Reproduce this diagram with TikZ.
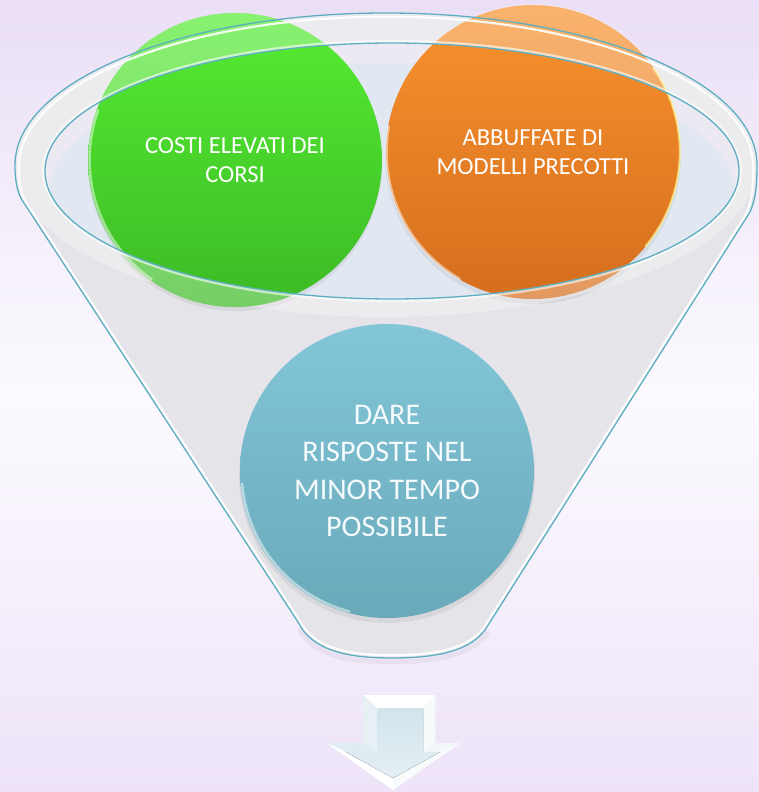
\documentclass[tikz,border=0pt]{standalone}
\usepackage{fontspec}
\setmainfont{Carlito}
\usetikzlibrary{calc}
\definecolor{bgtop}{HTML}{EADFF6}
\definecolor{bgmid}{HTML}{FCFAFE}
\definecolor{bgbot}{HTML}{EEE3F8}
\definecolor{funnelgray}{HTML}{E5E4E9}
\definecolor{funnelline}{HTML}{5EAEC2}
\definecolor{rimfill}{HTML}{ECE9F2}
\definecolor{liquid}{HTML}{E1E8F2}
\definecolor{greentop}{HTML}{55EC33}
\definecolor{greenbot}{HTML}{3CBA25}
\definecolor{orangetop}{HTML}{F8922E}
\definecolor{orangebot}{HTML}{D56E1D}
\definecolor{bluetop}{HTML}{82C6D8}
\definecolor{bluebot}{HTML}{69A9BA}
\definecolor{arrowface}{HTML}{D2E4EC}
\definecolor{arrowedge}{HTML}{F3F8FA}
\begin{document}
\begin{tikzpicture}[x=1pt,y=-1pt,
  ball/.style={circle, minimum size=294pt, inner sep=0pt, align=center, text=white,
    font=\fontsize{24.5}{29}\selectfont},
  bigball/.style={ball, font=\fontsize{30}{37.5}\selectfont, text=white!92!bluetop},
  hl/.style={white, line width=2.5pt, opacity=0.5, line cap=round},
  ballshadow/.style={black, opacity=0.06},
  funnelpath/.style={insert path={(15,165) arc[start angle=180, end angle=360, x radius=371, y radius=152]
     .. controls (757,190) and (755,200) .. (750,212) -- (485,630)
     .. controls (470,650) and (440,658) .. (392,658)
     .. controls (345,658) and (312,650) .. (298,622) -- (22,200)
     .. controls (17,192) and (15,180) .. (15,165) -- cycle}},
]
\useasboundingbox (0,0) rectangle (759,792);
% background
\fill[top color=bgtop, bottom color=bgbot, middle color=bgmid] (0,0) rectangle (759,792);

% funnel shadow
\draw[line width=5pt, color=black!15!bgbot, opacity=0.25, line cap=round]
  (300,630) .. controls (314,654) and (345,662) .. (392,662) .. controls (440,662) and (472,653) .. (487,634);

% funnel body
\fill[funnelgray, opacity=0.95, funnelpath];
% rim interior and liquid surface
\fill[rimfill] (392,171) ellipse [x radius=347, y radius=128];
\begin{scope}
  \clip (392,171) ellipse [x radius=347, y radius=128];
  \fill[liquid] (392,190) ellipse [x radius=342, y radius=127];
\end{scope}

% circle shadows
\fill[ballshadow] (387,475) circle [radius=148];
\fill[ballshadow] (235,164) circle [radius=147];
\fill[ballshadow] (533,156) circle [radius=148];

% circles
\node[bigball, top color=bluetop, bottom color=bluebot] (b) at (387,471)
  {DARE\\RISPOSTE NEL\\MINOR TEMPO\\POSSIBILE};
\node[ball, top color=greentop, bottom color=greenbot] (g) at (235,160)
  {COSTI ELEVATI DEI\\CORSI};
\node[ball, top color=orangetop, bottom color=orangebot] (o) at (533,152)
  {ABBUFFATE DI\\MODELLI PRECOTTI};

% glossy rims
\draw[hl] ($(b.center)+(175:145.5)$) arc[start angle=175, end angle=105, radius=145.5];
\draw[hl] ($(g.center)+(200:145.5)$) arc[start angle=200, end angle=125, radius=145.5];
\draw[hl] ($(o.center)+(190:146.5)$) arc[start angle=190, end angle=120, radius=146.5];
\draw[line width=2pt, color=yellow!40!white, opacity=0.7, line cap=round]
  ($(o.center)+(-35:146.8)$) arc[start angle=-35, end angle=40, radius=146.8];

% glass rim band over everything
\fill[white, opacity=0.3, even odd rule]
  (386,165) ellipse [x radius=371, y radius=152]
  (392,171) ellipse [x radius=347, y radius=128];
\begin{scope}
  \clip (g.center) circle [radius=147] (o.center) circle [radius=148];
  \fill[white, opacity=0.3, even odd rule]
    (0,0) rectangle (759,400)
    (386,165) ellipse [x radius=371, y radius=152];
\end{scope}

% rim inner line
\draw[white, line width=3pt, opacity=0.6] (392,171) ellipse [x radius=348.5, y radius=129.5];
\draw[funnelline, line width=1.3pt] (392,171) ellipse [x radius=347, y radius=128];

% funnel outline with inner highlight
\begin{scope}[scale around={0.99:(387,380)}]
  \draw[white, line width=2.2pt, opacity=0.9, funnelpath];
\end{scope}
\draw[funnelline, line width=1.3pt, funnelpath];

% down arrow
\fill[arrowedge] (363,695) -- (435,695) -- (435,743) -- (460,743) -- (393,790) -- (327,743) -- (363,743) -- cycle;
\fill[white] (363,695) -- (435,695) -- (423,708) -- (377,708) -- cycle;
\fill[color=arrowface!55!white] (363,695) -- (377,708) -- (377,752) -- (363,743) -- cycle;
\fill[white!80!arrowface] (435,695) -- (423,708) -- (423,752) -- (435,743) -- cycle;
\fill[color=arrowface!70!white] (327,743) -- (363,743) -- (377,752) -- (346,752) -- cycle;
\fill[white!70!arrowface] (435,743) -- (460,743) -- (440,752) -- (423,752) -- cycle;
\fill[white] (327,743) -- (346,752) -- (393,778) -- (393,790) -- cycle;
\fill[white!85!arrowface] (460,743) -- (440,752) -- (393,778) -- (393,790) -- cycle;
\fill[top color=arrowface, bottom color=arrowface!60!white]
  (377,708) -- (423,708) -- (423,752) -- (440,752) -- (393,778) -- (346,752) -- (377,752) -- cycle;
\end{tikzpicture}
\end{document}
